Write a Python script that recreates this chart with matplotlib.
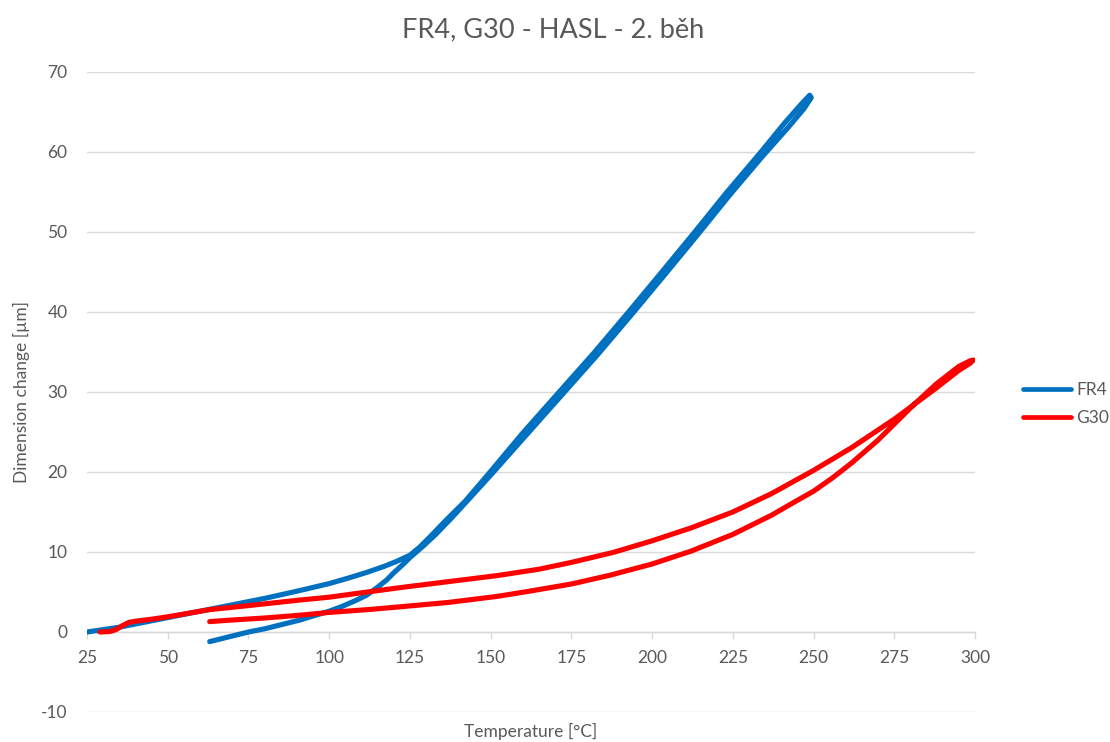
import matplotlib
matplotlib.use("Agg")
import matplotlib.pyplot as plt

plt.rcParams['font.family'] = ['Lato', 'DejaVu Sans']
plt.rcParams['axes.unicode_minus'] = False

# ---------------- data ----------------
fr4_heat_T = [25, 30, 35, 40, 50, 60, 70, 80, 90, 100, 106, 112, 117, 121, 125, 128, 131, 136, 142,
              149, 160, 171, 182, 192.5, 203, 213, 223, 233.5, 241, 246, 248.8]
fr4_heat_v = [0, 0.3, 0.6, 1.0, 1.8, 2.6, 3.4, 4.2, 5.1, 6.05, 6.75, 7.5, 8.2, 8.85, 9.6, 10.6, 11.8, 13.9, 16.3,
              19.6, 24.9, 29.9, 34.9, 39.9, 45.0, 49.9, 54.9, 59.9, 63.6, 65.9, 67.1]
fr4_cool_T = [249.3, 247, 242, 234.5, 224, 214, 204, 193.5, 183, 172, 161, 150, 143, 138, 133, 129,
              127, 125, 123, 120, 117.8, 115, 111.6, 108, 104, 100, 95, 91, 85, 80, 75, 70, 66, 63]
fr4_cool_v = [66.8, 65.4, 63.0, 59.6, 54.6, 49.6, 44.7, 39.6, 34.6, 29.6, 24.6, 19.6, 16.5, 14.3, 12.2, 10.7,
              10.0, 9.3, 8.5, 7.4, 6.5, 5.6, 4.6, 3.9, 3.2, 2.6, 2.0, 1.5, 0.9, 0.4, 0.0, -0.5, -0.9, -1.2]

g30_heat_T = [29, 32, 34, 36, 38, 40, 45, 50, 63, 75, 91, 100, 110, 122, 135, 152, 165, 175, 188, 200,
              212, 225, 237, 250, 262, 275, 281, 288, 295, 298.5, 299.5]
g30_heat_v = [0, 0.05, 0.3, 0.8, 1.2, 1.35, 1.6, 1.9, 2.8, 3.3, 4.0, 4.35, 4.9, 5.55, 6.2, 7.05, 7.85, 8.7, 9.95, 11.4,
              13.0, 15.0, 17.3, 20.2, 23.1, 26.6, 28.4, 30.5, 32.7, 33.6, 34.0]
g30_cool_T = [299.5, 298.5, 295, 288, 281, 275, 270, 262, 256, 250, 243, 237, 225, 212, 200, 187, 175,
              162, 152, 137, 122, 112, 100, 91, 80, 70, 63]
g30_cool_v = [34.0, 33.9, 33.2, 31.0, 28.4, 26.0, 24.0, 21.2, 19.3, 17.6, 16.0, 14.6, 12.2, 10.1, 8.5, 7.1, 6.0,
              5.1, 4.45, 3.7, 3.15, 2.8, 2.45, 2.1, 1.75, 1.5, 1.3]

series_names = ["FR4", "G30"]
series_colors = ["#0070C0", "#FF0000"]
x_ticks = [25, 50, 75, 100, 125, 150, 175, 200, 225, 250, 275, 300]
y_ticks = [-10, 0, 10, 20, 30, 40, 50, 60, 70]

title = "FR4, G30 - HASL - 2. běh"
xlabel = "Temperature [°C]"
ylabel = "Dimension change [µm]"

# ---------------- figure ----------------
W, H = 1110, 742
fig = plt.figure(figsize=(W / 100, H / 100), dpi=100)
ax = fig.add_axes([87 / W, 1 - 712 / H, (975 - 87) / W, (712 - 72) / H])

txt = "#595959"

fr4_T = fr4_heat_T + fr4_cool_T
fr4_v = fr4_heat_v + fr4_cool_v
g30_T = g30_heat_T + g30_cool_T
g30_v = g30_heat_v + g30_cool_v

for T, v, name, col in [(fr4_T, fr4_v, series_names[0], series_colors[0]),
                        (g30_T, g30_v, series_names[1], series_colors[1])]:
    ax.plot(T, v, color=col, lw=3.7, label=name, solid_capstyle='round', solid_joinstyle='round', zorder=3)

ax.set_xlim(25, 300)
ax.set_ylim(-10, 70)
ax.set_xticks(x_ticks)
ax.set_yticks(y_ticks)

for s in ['top', 'right', 'left']:
    ax.spines[s].set_visible(False)
ax.spines['bottom'].set_position(('data', 0))
ax.spines['bottom'].set_color('#D9D9D9')
ax.spines['bottom'].set_linewidth(1.0)
ax.spines['bottom'].set_zorder(2)

ax.grid(axis='y', color='#D9D9D9', lw=1.0)
ax.set_axisbelow(True)

ax.tick_params(axis='x', direction='out', length=5, width=1, color='#D9D9D9', pad=8,
               labelsize=12.5, labelcolor=txt)
ax.tick_params(axis='y', length=0, pad=14, labelsize=12.5, labelcolor=txt)

fig.text(553 / W, 1 - 30 / H, title, ha='center', va='center', fontsize=19.5, color=txt)
fig.text(531 / W, 1 - 731 / H, xlabel, ha='center', va='center', fontsize=12.5, color=txt)
fig.text(21 / W, 1 - 392 / H, ylabel, ha='center', va='center', rotation=90, fontsize=12.5, color=txt)

leg = fig.legend(loc='center left', bbox_to_anchor=(1023 / W, 1 - 404 / H), frameon=False,
                 borderaxespad=0, borderpad=0,
                 fontsize=12.5, labelcolor=txt, handlelength=2.75, handletextpad=0.3, labelspacing=0.7)
for ln in leg.get_lines():
    ln.set_linewidth(3.4)

fig.savefig("out.png", dpi=100, facecolor='white')
